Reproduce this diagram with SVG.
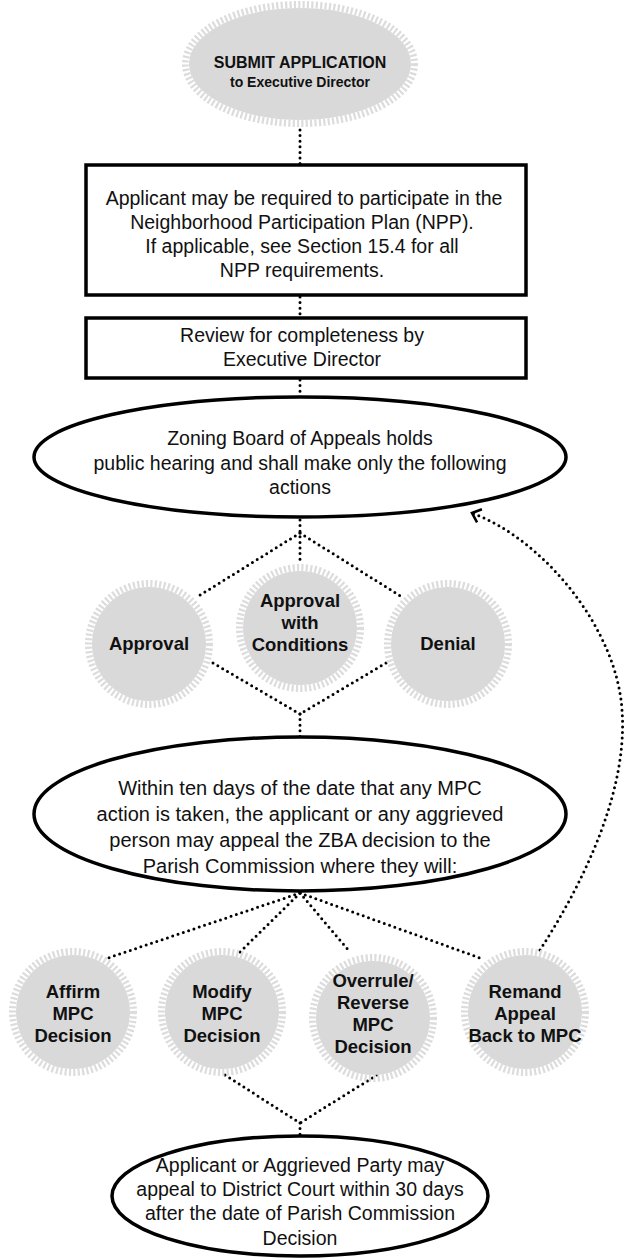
<svg xmlns="http://www.w3.org/2000/svg" width="624" height="1260" viewBox="0 0 624 1260">
<defs>
<style>
.t{font-family:"Liberation Sans",Arial,Helvetica,sans-serif;font-size:19.5px;fill:#111;text-anchor:middle}
.b{font-weight:bold;font-size:18.5px}
.box{fill:#fff;stroke:#000;stroke-width:3.5}
.ell{fill:#fff;stroke:#000;stroke-width:3.5}
.dot{fill:none;stroke:#000;stroke-width:3;stroke-dasharray:0 5.6;stroke-linecap:round}
.gear{fill:#d9d9d9}
.teeth{fill:none;stroke:#dcdcdc;stroke-width:7;stroke-dasharray:2.2 2.2}
</style>
<marker id="arr" markerUnits="userSpaceOnUse" markerWidth="16" markerHeight="16" refX="12" refY="8" orient="auto">
<path d="M4,1 L12,8 L4,15" fill="none" stroke="#000" stroke-width="2.6"/>
</marker>
</defs>
<rect width="624" height="1260" fill="#fff"/>

<g id="connectors">
<line class="dot" x1="300" y1="130" x2="300" y2="164"/>
<line class="dot" x1="300" y1="297" x2="300" y2="317"/>
<line class="dot" x1="300" y1="380" x2="300" y2="396"/>
<line class="dot" x1="300" y1="520" x2="300" y2="562"/>
<line class="dot" x1="300" y1="533" x2="197" y2="597"/>
<line class="dot" x1="300" y1="533" x2="402" y2="597"/>
<line class="dot" x1="213" y1="663" x2="300" y2="714"/>
<line class="dot" x1="386" y1="663" x2="300" y2="714"/>
<line class="dot" x1="300" y1="714" x2="300" y2="738"/>
<line class="dot" x1="300" y1="893" x2="108" y2="958"/>
<line class="dot" x1="300" y1="893" x2="240" y2="952"/>
<line class="dot" x1="300" y1="893" x2="350" y2="952"/>
<line class="dot" x1="300" y1="893" x2="480" y2="958"/>
<line class="dot" x1="225" y1="1075" x2="300" y2="1123"/>
<line class="dot" x1="377" y1="1075" x2="300" y2="1123"/>
<line class="dot" x1="300" y1="1123" x2="300" y2="1136"/>
<path class="dot" d="M540,950 C585,880 628,790 622,710 C617,630 545,540 472,513" marker-end="url(#arr)"/>
</g>

<g id="submit">
<ellipse class="gear" cx="300" cy="64" rx="111" ry="56"/>
<ellipse class="teeth" cx="300" cy="64" rx="114.5" ry="59.5"/>
<text class="t b" x="300" y="68" style="font-size:16px">SUBMIT APPLICATION</text>
<text class="t b" x="300" y="87" style="font-size:14px">to Executive Director</text>
</g>

<g id="npp">
<rect class="box" x="86" y="165" width="440" height="130"/>
<text class="t" x="304" y="205">Applicant may be required to participate in the</text>
<text class="t" x="302" y="229">Neighborhood Participation Plan (NPP).</text>
<text class="t" x="302" y="253">If applicable, see Section 15.4 for all</text>
<text class="t" x="302" y="277">NPP requirements.</text>
</g>

<g id="review">
<rect class="box" x="86" y="318" width="440" height="60"/>
<text class="t" x="302" y="342">Review for completeness by</text>
<text class="t" x="302" y="366">Executive Director</text>
</g>

<g id="zba">
<ellipse class="ell" cx="300" cy="457" rx="266" ry="60"/>
<text class="t" x="300" y="445">Zoning Board of Appeals holds</text>
<text class="t" x="300" y="470">public hearing and shall make only the following</text>
<text class="t" x="300" y="494">actions</text>
</g>

<g id="approval">
<circle class="gear" cx="149" cy="644" r="57"/>
<circle class="teeth" cx="149" cy="644" r="60.5"/>
<text class="t b" x="149" y="650">Approval</text>
</g>

<g id="conditions">
<circle class="gear" cx="300" cy="628" r="57"/>
<circle class="teeth" cx="300" cy="628" r="60.5"/>
<text class="t b" x="300" y="607">Approval</text>
<text class="t b" x="300" y="629">with</text>
<text class="t b" x="300" y="651">Conditions</text>
</g>

<g id="denial">
<circle class="gear" cx="448" cy="644" r="57"/>
<circle class="teeth" cx="448" cy="644" r="60.5"/>
<text class="t b" x="448" y="650">Denial</text>
</g>

<g id="appeal">
<ellipse class="ell" cx="300" cy="814" rx="266" ry="77"/>
<text class="t" x="300" y="795" style="font-size:20px">Within ten days of the date that any MPC</text>
<text class="t" x="300" y="821" style="font-size:20px">action is taken, the applicant or any aggrieved</text>
<text class="t" x="300" y="847" style="font-size:20px">person may appeal the ZBA decision to the</text>
<text class="t" x="300" y="873" style="font-size:20px">Parish Commission where they will:</text>
</g>

<g id="affirm">
<circle class="gear" cx="73" cy="1012" r="57"/>
<circle class="teeth" cx="73" cy="1012" r="60.5"/>
<text class="t b" x="73" y="998">Affirm</text>
<text class="t b" x="73" y="1020">MPC</text>
<text class="t b" x="73" y="1042">Decision</text>
</g>

<g id="modify">
<circle class="gear" cx="222" cy="1012" r="57"/>
<circle class="teeth" cx="222" cy="1012" r="60.5"/>
<text class="t b" x="222" y="998">Modify</text>
<text class="t b" x="222" y="1020">MPC</text>
<text class="t b" x="222" y="1042">Decision</text>
</g>

<g id="overrule">
<circle class="gear" cx="373" cy="1018" r="57"/>
<circle class="teeth" cx="373" cy="1018" r="60.5"/>
<text class="t b" x="373" y="987">Overrule/</text>
<text class="t b" x="373" y="1009">Reverse</text>
<text class="t b" x="373" y="1031">MPC</text>
<text class="t b" x="373" y="1053">Decision</text>
</g>

<g id="remand">
<circle class="gear" cx="525" cy="1012" r="57"/>
<circle class="teeth" cx="525" cy="1012" r="60.5"/>
<text class="t b" x="525" y="998">Remand</text>
<text class="t b" x="525" y="1020">Appeal</text>
<text class="t b" x="525" y="1042">Back to MPC</text>
</g>

<g id="court">
<ellipse class="ell" cx="300" cy="1196" rx="188" ry="60"/>
<text class="t" x="300" y="1172">Applicant or Aggrieved Party may</text>
<text class="t" x="300" y="1196">appeal to District Court within 30 days</text>
<text class="t" x="300" y="1220">after the date of Parish Commission</text>
<text class="t" x="300" y="1245">Decision</text>
</g>
</svg>
